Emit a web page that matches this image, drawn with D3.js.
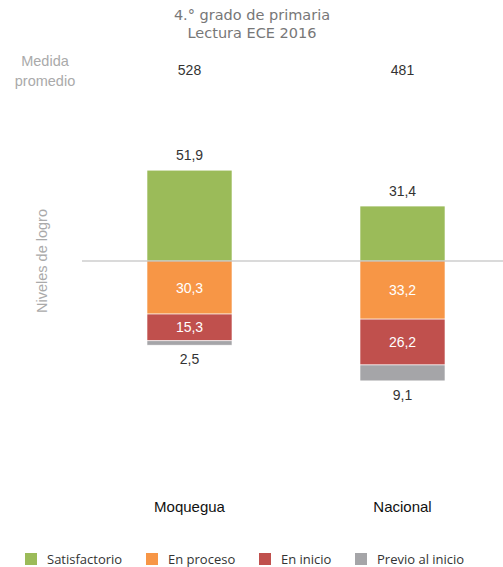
<!DOCTYPE html>
<html>
  <head>
    <meta charset="utf-8">
    <script src="https://d3js.org/d3.v7.min.js"></script>
    <style>
      body { margin: 0px; background: #fff; }
      text { font-family: "Liberation Sans", Arial, sans-serif; }
      .title { fill: #777; font-size: 14.5px; font-family: "DejaVu Sans", sans-serif; }
      .side { fill: #aaaaaa; font-size: 14.5px; }
      .val { fill: #333; font-size: 14px; }
      .inner { fill: #fff; font-size: 14px; }
      .cat { fill: #111; font-size: 15px; }
      .legend { fill: #333; font-size: 13px; font-family: "Open Sans", sans-serif; }
    </style>
  </head>
  <body>
    <svg width="503" height="567"></svg>
    <script>
      const categories = ['Moquegua', 'Nacional'];
      const means = [528, 481];
      const levels = ['Satisfactorio', 'En proceso', 'En inicio', 'Previo al inicio'];
      const colors = ['#9bbb59', '#f79646', '#c0504d', '#a5a5a8'];
      const satisfactorio = [51.9, 31.4];
      const enProceso = [30.3, 33.2];
      const enInicio = [15.3, 26.2];
      const previo = [2.5, 9.1];

      const svg = d3.select('svg');
      const barWidth = 85;

      const xScale = d3.scalePoint()
        .domain(categories)
        .range([189.5, 402.5]);

      const yScale = d3.scaleLinear()
        .domain([-60, 60])
        .range([366, 156]);

      // title
      svg.append('text').attr('class', 'title')
        .attr('x', 252).attr('y', 20).attr('text-anchor', 'middle')
        .text('4.° grado de primaria');
      svg.append('text').attr('class', 'title')
        .attr('x', 252).attr('y', 38).attr('text-anchor', 'middle')
        .text('Lectura ECE 2016');

      // medida promedio
      svg.append('text').attr('class', 'side')
        .attr('x', 45).attr('y', 66).attr('text-anchor', 'middle')
        .text('Medida');
      svg.append('text').attr('class', 'side')
        .attr('x', 45).attr('y', 86).attr('text-anchor', 'middle')
        .text('promedio');

      svg.selectAll('.mean').data(categories)
        .enter().append('text')
          .attr('class', 'val')
          .attr('x', d => xScale(d))
          .attr('y', 75)
          .attr('text-anchor', 'middle')
          .text((d, i) => means[i]);

      svg.append('text').attr('class', 'side')
        .attr('transform', `translate(47,${yScale(0)}) rotate(-90)`)
        .attr('text-anchor', 'middle')
        .text('Niveles de logro');

      // build segments
      const segments = [];
      categories.forEach((c, i) => {
        segments.push({ cat: c, level: 0, v: satisfactorio[i], y0: 0, y1: satisfactorio[i] });
        let acc = 0;
        [enProceso[i], enInicio[i], previo[i]].forEach((v, k) => {
          segments.push({ cat: c, level: k + 1, v: v, y0: -acc, y1: -(acc + v) });
          acc += v;
        });
      });

      svg.selectAll('rect.seg').data(segments)
        .enter().append('rect')
          .attr('class', 'seg')
          .attr('x', d => xScale(d.cat) - barWidth / 2)
          .attr('y', d => Math.min(yScale(d.y0), yScale(d.y1)))
          .attr('width', barWidth)
          .attr('height', d => Math.abs(yScale(d.y0) - yScale(d.y1)))
          .attr('fill', d => colors[d.level])
          .attr('stroke', '#fff')
          .attr('stroke-width', 0.6);

      // baseline
      svg.append('line')
        .attr('x1', 82).attr('x2', 503)
        .attr('y1', yScale(0)).attr('y2', yScale(0))
        .attr('stroke', '#b5b5b5').attr('stroke-width', 1);

      const fmt = v => String(v.toFixed(1)).replace('.', ',');

      svg.selectAll('.lab').data(segments)
        .enter().append('text')
          .attr('class', d => (d.level === 1 || d.level === 2) ? 'inner' : 'val')
          .attr('x', d => xScale(d.cat))
          .attr('y', d => {
            if (d.level === 0) return yScale(d.y1) - 10;
            if (d.level === 3) return yScale(d.y1) + 19;
            return (yScale(d.y0) + yScale(d.y1)) / 2 + 5;
          })
          .attr('text-anchor', 'middle')
          .text(d => fmt(d.v));

      // categories
      svg.selectAll('.cat').data(categories)
        .enter().append('text')
          .attr('class', 'cat')
          .attr('x', d => xScale(d))
          .attr('y', 512)
          .attr('text-anchor', 'middle')
          .text(d => d);

      // legend
      const legendX = [25, 146, 259, 355];
      const lg = svg.selectAll('.lg').data(levels)
        .enter().append('g')
          .attr('transform', (d, i) => `translate(${legendX[i]},553)`);
      lg.append('rect')
        .attr('width', 12).attr('height', 12)
        .attr('fill', (d, i) => colors[i]);
      lg.append('text')
        .attr('class', 'legend')
        .attr('x', 22).attr('y', 11)
        .text(d => d);
    </script>
  </body>
</html>
